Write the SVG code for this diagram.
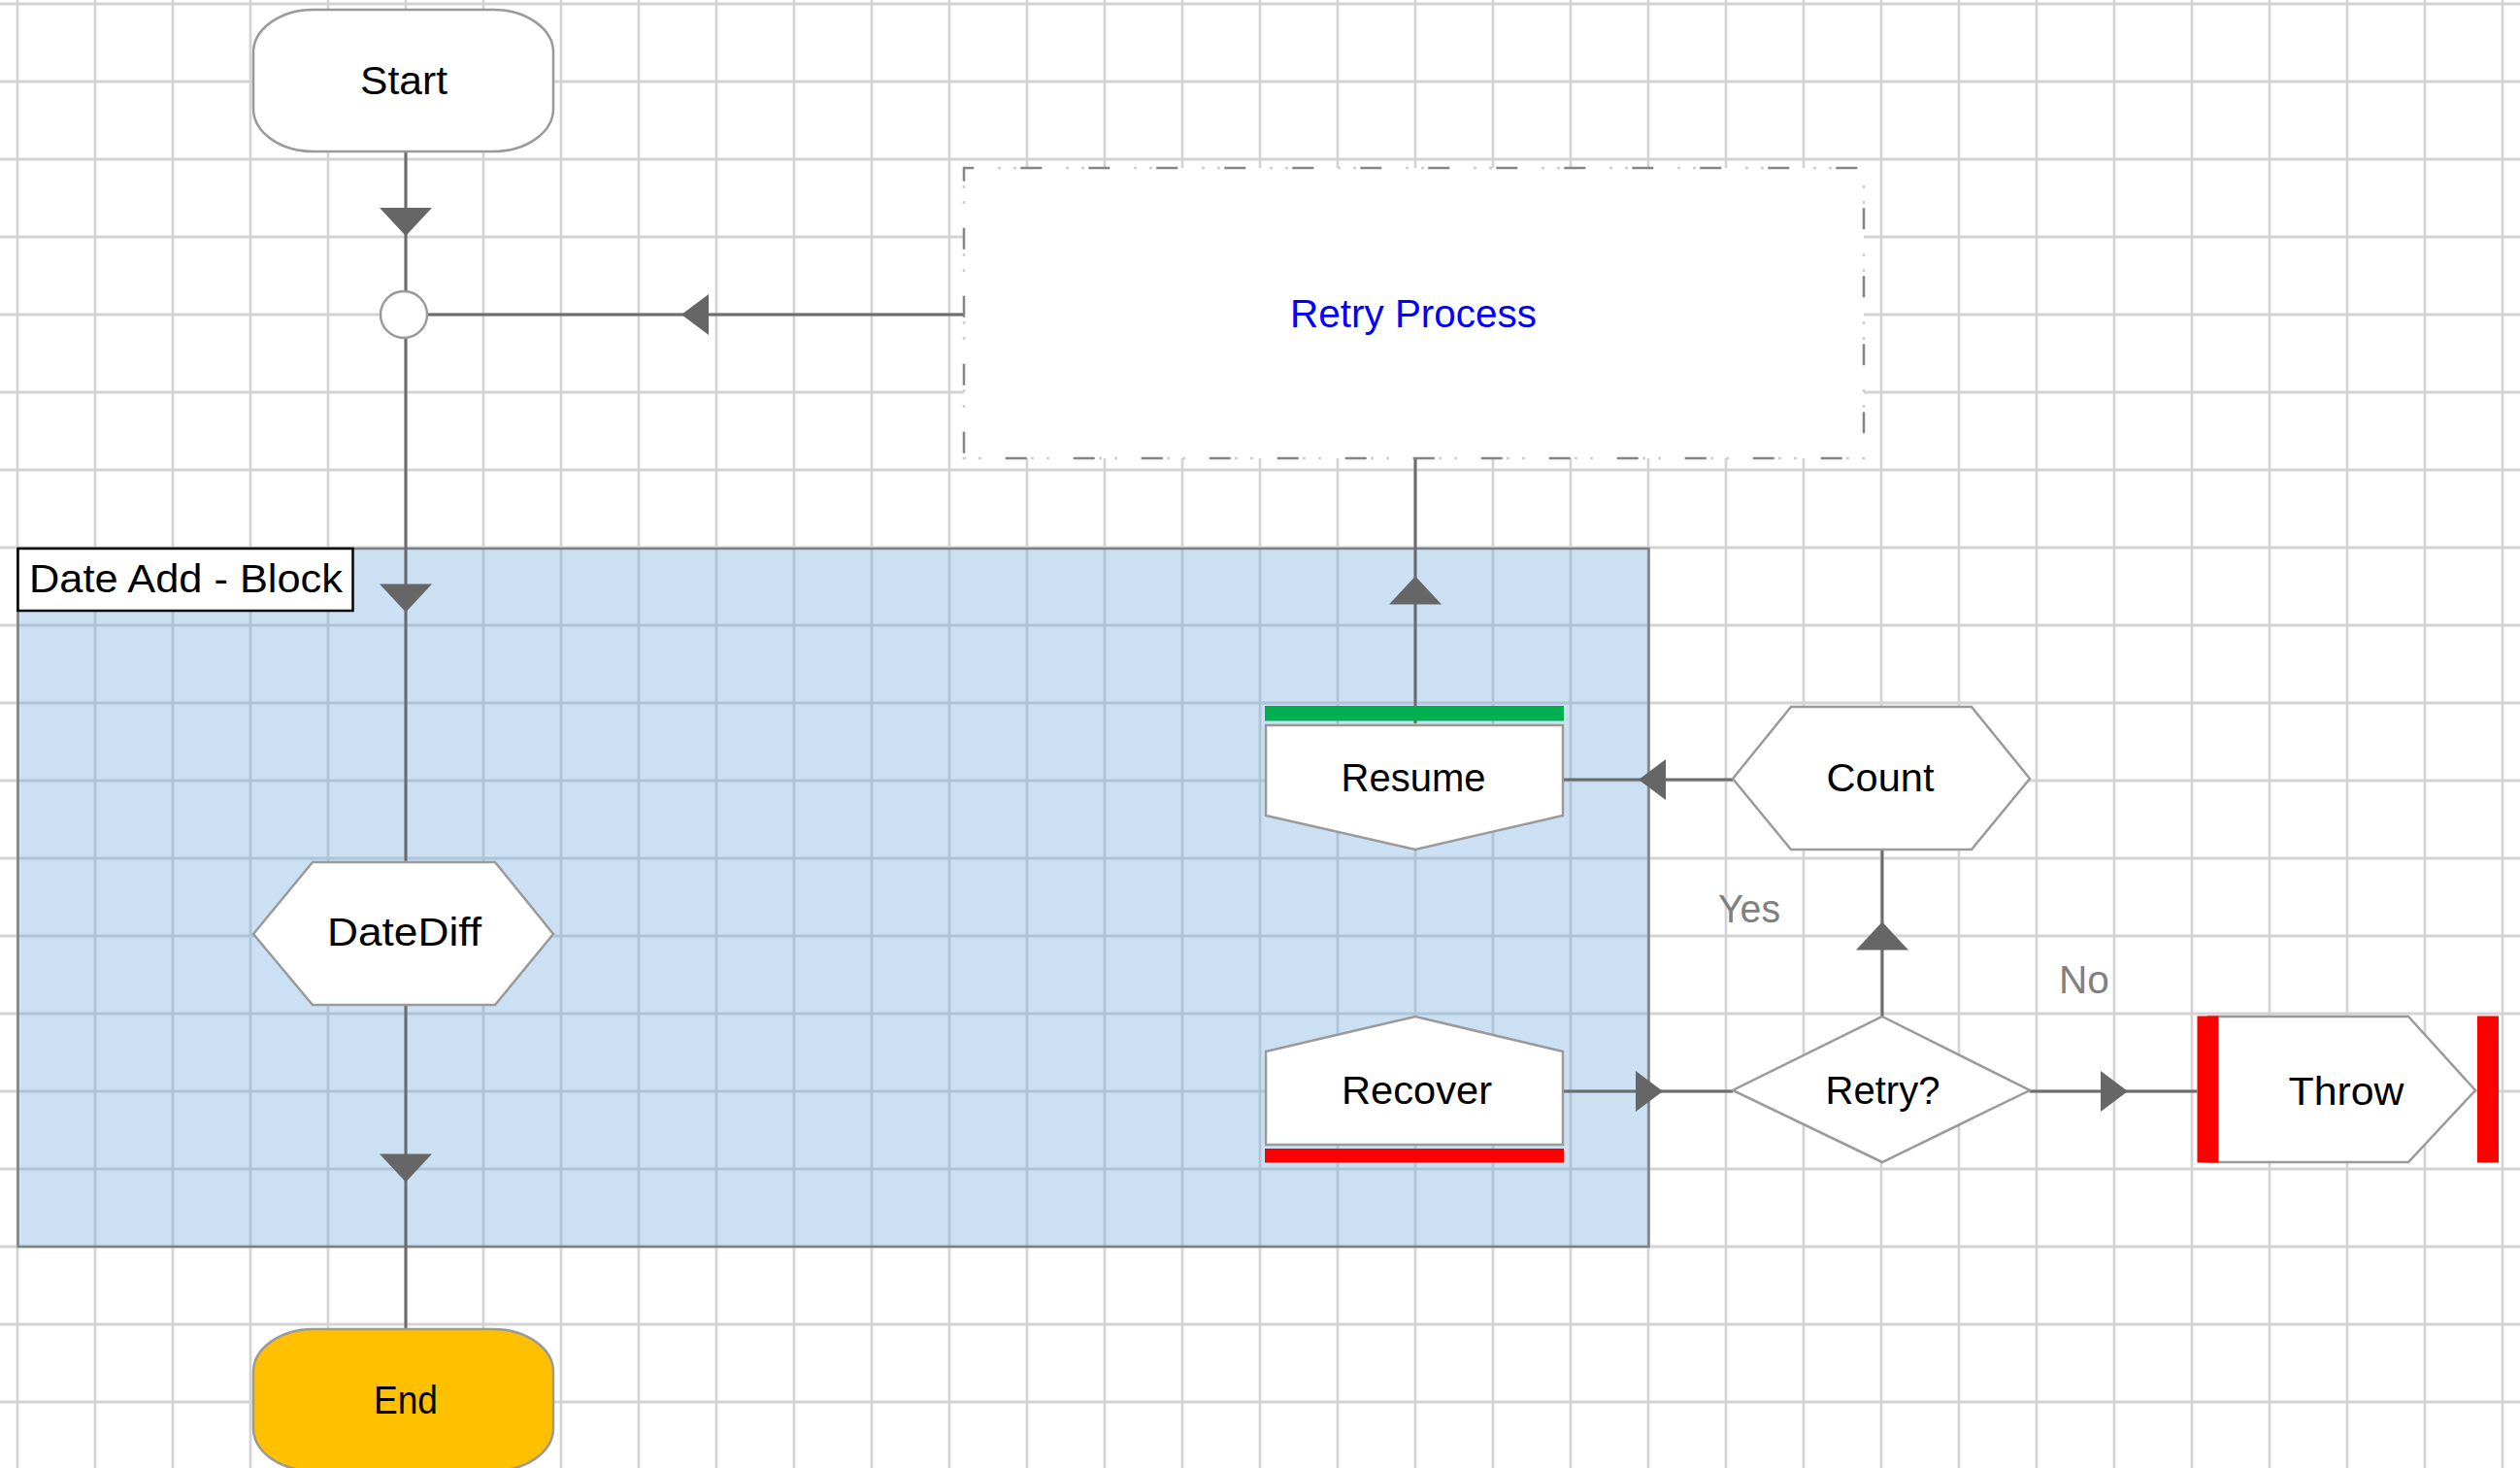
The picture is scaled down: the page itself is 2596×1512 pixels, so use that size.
<svg xmlns="http://www.w3.org/2000/svg" width="2596" height="1512" viewBox="0 0 2596 1512">
<defs>
<style>
.grid{stroke:#d4d4d4;stroke-width:2.8;fill:none}
.conn{stroke:#6b6b6b;stroke-width:3;fill:none}
.shape{fill:#ffffff;stroke:#9a9a9a;stroke-width:2.5}
.lbl{font-family:"Liberation Sans",Arial,sans-serif;font-size:41px;fill:#000}
.mid{text-anchor:middle}
.cond{font-family:"Liberation Sans",Arial,sans-serif;font-size:40px;fill:#808080}
</style>
<marker id="arrV" markerUnits="userSpaceOnUse" markerWidth="29" markerHeight="54" refX="14.5" refY="27" orient="auto" overflow="visible">
<path d="M0,0 L29,27 L0,54 Z" fill="#666666"/>
</marker>
<marker id="arrH" markerUnits="userSpaceOnUse" markerWidth="28" markerHeight="42" refX="14" refY="21" orient="auto" overflow="visible">
<path d="M0,0 L28,21 L0,42 Z" fill="#666666"/>
</marker>
</defs>
<rect x="0" y="0" width="2596" height="1512" fill="#ffffff"/>
<g id="grid">
<path class="grid" d="M18 0V1512M98 0V1512M178 0V1512M258 0V1512M338 0V1512M418 0V1512M498 0V1512M578 0V1512M658 0V1512M738 0V1512M818 0V1512M898 0V1512M978 0V1512M1058 0V1512M1138 0V1512M1218 0V1512M1298 0V1512M1378 0V1512M1458 0V1512M1538 0V1512M1618 0V1512M1698 0V1512M1778 0V1512M1858 0V1512M1938 0V1512M2018 0V1512M2098 0V1512M2178 0V1512M2258 0V1512M2338 0V1512M2418 0V1512M2498 0V1512M2578 0V1512"/>
<path class="grid" d="M0 4H2596M0 84H2596M0 164H2596M0 244H2596M0 324H2596M0 404H2596M0 484H2596M0 564H2596M0 644H2596M0 724H2596M0 804H2596M0 884H2596M0 964H2596M0 1044H2596M0 1124H2596M0 1204H2596M0 1284H2596M0 1364H2596M0 1444H2596"/>
</g>
<g id="block">
<rect x="18.5" y="565" width="1680" height="719" fill="#609EDC" fill-opacity="0.32" stroke="#808080" stroke-width="2.5"/>
<rect x="18.5" y="565" width="345" height="64" fill="#ffffff" stroke="#000000" stroke-width="2.5"/>
<text class="lbl" x="30" y="610" textLength="323" lengthAdjust="spacingAndGlyphs">Date Add - Block</text>
</g>
<g id="connectors">
<path class="conn" d="M418,156 L418,228.5 L418,300" marker-mid="url(#arrV)"/>
<path class="conn" d="M418,348 L418,616 L418,888" marker-mid="url(#arrV)"/>
<path class="conn" d="M418,1035 L418,1203 L418,1369" marker-mid="url(#arrV)"/>
<path class="conn" d="M993,324 L716,324 L440,324" marker-mid="url(#arrH)"/>
<path class="conn" d="M1458,745 L1458,608 L1458,472" marker-mid="url(#arrV)"/>
<path class="conn" d="M1785,803 L1702,803 L1611,803" marker-mid="url(#arrH)"/>
<path class="conn" d="M1611,1124 L1699,1124 L1785,1124" marker-mid="url(#arrH)"/>
<path class="conn" d="M1939,1047 L1939,964 L1939,875" marker-mid="url(#arrV)"/>
<path class="conn" d="M2091,1124 L2178,1124 L2263,1124" marker-mid="url(#arrH)"/>
<text class="cond" x="1770" y="950" textLength="64" lengthAdjust="spacingAndGlyphs">Yes</text>
<text class="cond" x="2121" y="1023" textLength="52" lengthAdjust="spacingAndGlyphs">No</text>
</g>
<g id="start">
<rect class="shape" x="261" y="10" width="309" height="146" rx="62" ry="44"/>
<text class="lbl mid" x="416" y="97" textLength="90" lengthAdjust="spacingAndGlyphs">Start</text>
</g>
<g id="junction">
<circle class="shape" cx="416" cy="324" r="24"/>
</g>
<g id="retry-process">
<rect x="993" y="173" width="927" height="299" fill="#ffffff"/>
<rect x="993" y="173" width="927" height="299" fill="none" stroke="#cfcfcf" stroke-width="2.5" stroke-dasharray="3 13 3 51" stroke-dashoffset="35"/>
<rect x="993" y="173" width="927" height="299" fill="none" stroke="#858585" stroke-width="2.5" stroke-dasharray="22 48" stroke-dashoffset="11.7"/>
<text class="lbl mid" x="1456" y="337" fill="#0000ff" style="fill:#0000ff" textLength="254" lengthAdjust="spacingAndGlyphs">Retry Process</text>
</g>
<g id="datediff">
<polygon class="shape" points="261,962 322,888 510,888 570,962 510,1035 322,1035"/>
<text class="lbl mid" x="416.5" y="974" textLength="159" lengthAdjust="spacingAndGlyphs">DateDiff</text>
</g>
<g id="end">
<rect x="261" y="1369" width="309" height="146" rx="62" ry="44" fill="#FFC000" stroke="#9a9a9a" stroke-width="2.5"/>
<text class="lbl mid" x="418" y="1456" textLength="66" lengthAdjust="spacingAndGlyphs">End</text>
</g>
<g id="resume">
<rect x="1303" y="727" width="308" height="15.5" fill="#00B050"/>
<polygon class="shape" points="1304,747 1610,747 1610,840 1458,875 1304,840"/>
<text class="lbl mid" x="1456" y="815" textLength="149" lengthAdjust="spacingAndGlyphs">Resume</text>
</g>
<g id="count">
<polygon class="shape" points="1785,802 1845,728 2031,728 2091,802 2031,875 1845,875"/>
<text class="lbl mid" x="1937" y="815" textLength="111" lengthAdjust="spacingAndGlyphs">Count</text>
</g>
<g id="recover">
<polygon class="shape" points="1304,1083 1458,1047 1610,1083 1610,1179 1304,1179"/>
<rect x="1303" y="1183" width="308" height="14.5" fill="#FF0000"/>
<text class="lbl mid" x="1459.5" y="1137" textLength="155" lengthAdjust="spacingAndGlyphs">Recover</text>
</g>
<g id="retry-decision">
<polygon class="shape" points="1939,1047 2091,1123 1939,1197 1785,1123"/>
<text class="lbl mid" x="1939.5" y="1137" textLength="118" lengthAdjust="spacingAndGlyphs">Retry?</text>
</g>
<g id="throw">
<polygon class="shape" points="2275,1047 2481,1047 2550,1123 2481,1197 2275,1197"/>
<rect x="2263.5" y="1046.5" width="22" height="151" fill="#FF0000"/>
<rect x="2552" y="1046.5" width="22" height="151" fill="#FF0000"/>
<text class="lbl mid" x="2417" y="1138" textLength="119" lengthAdjust="spacingAndGlyphs">Throw</text>
</g>
</svg>
